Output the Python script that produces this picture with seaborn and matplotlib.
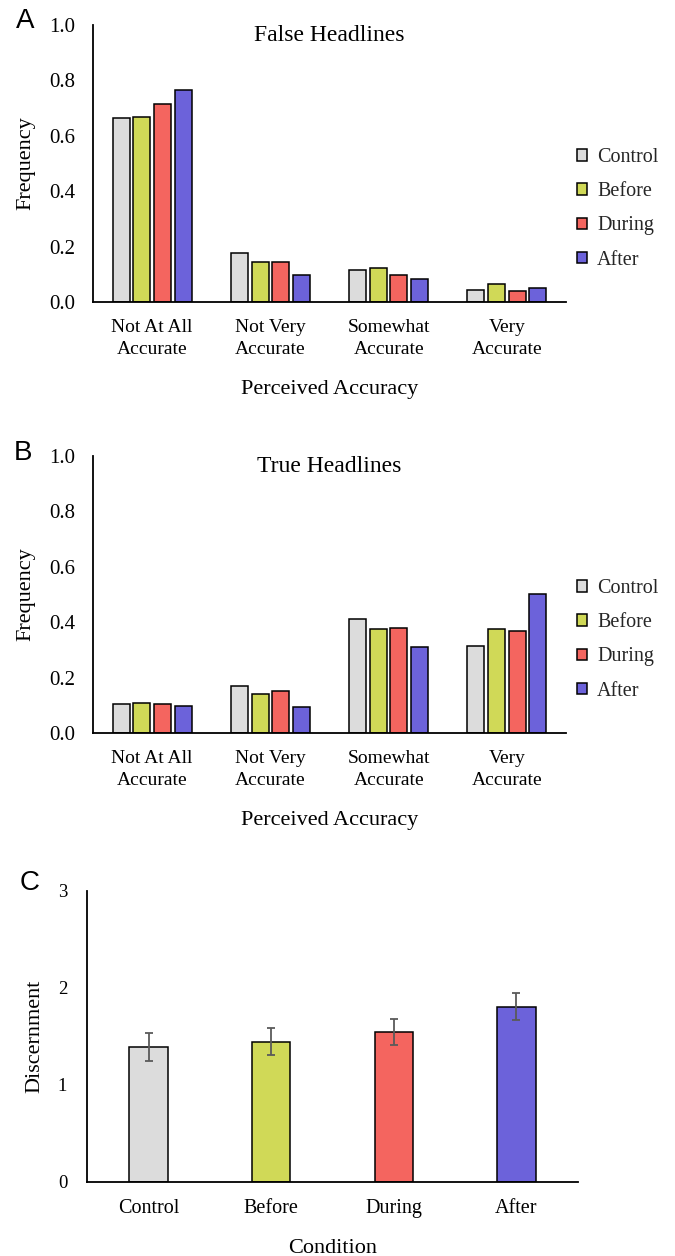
import matplotlib
matplotlib.use("Agg")
import matplotlib.pyplot as plt
import seaborn as sns
import pandas as pd
import numpy as np

categories = ["Not At All\nAccurate", "Not Very\nAccurate", "Somewhat\nAccurate", "Very\nAccurate"]
conditions = ["Control", "Before", "During", "After"]
colors = ["#dcdcdc", "#d0d957", "#f4655f", "#6c62da"]

false_control = [0.663, 0.177, 0.114, 0.045]
false_before = [0.668, 0.146, 0.121, 0.066]
false_during = [0.716, 0.143, 0.097, 0.041]
false_after = [0.767, 0.099, 0.084, 0.050]

true_control = [0.105, 0.170, 0.413, 0.315]
true_before = [0.107, 0.142, 0.377, 0.377]
true_during = [0.105, 0.152, 0.378, 0.367]
true_after = [0.096, 0.095, 0.312, 0.502]

discernment = [1.393, 1.442, 1.545, 1.806]
discernment_err = [0.142, 0.139, 0.130, 0.137]

yticks_freq = [0.0, 0.2, 0.4, 0.6, 0.8, 1.0]
yticks_disc = [0, 1, 2, 3]

sns.set_theme(style="white")
plt.rcParams['font.family'] = ['Liberation Serif', 'DejaVu Serif']

W, H = 675, 1256
fig = plt.figure(figsize=(W / 100, H / 100), dpi=100)


def long_df(series):
    rows = []
    for cond, vals in zip(conditions, series):
        for cat, v in zip(categories, vals):
            rows.append({"cat": cat, "cond": cond, "val": v})
    return pd.DataFrame(rows)


def style_axes(ax):
    for s in ["top", "right"]:
        ax.spines[s].set_visible(False)
    for s in ["left", "bottom"]:
        ax.spines[s].set_color("black")
        ax.spines[s].set_linewidth(1.3)
    ax.tick_params(length=0, colors="black")
    ax.grid(False)


def panel_letter(x, y, letter):
    fig.text(x / W, 1 - y / H, letter, fontsize=20, family="Liberation Sans",
             ha="center", va="center", color="black")


def freq_panel(rect, series, title, letter, letter_xy):
    ax = fig.add_axes(rect)
    df = long_df(series)
    sns.barplot(data=df, x="cat", y="val", hue="cond", order=categories,
                hue_order=conditions, palette=colors, width=0.7, gap=0.18,
                edgecolor="black", linewidth=1.1, ax=ax, saturation=1)
    ax.set_ylim(0, 1.0)
    ax.set_xlim(-0.5, 3.5)
    ax.set_yticks(yticks_freq)
    ax.set_yticklabels([f"{t:.1f}" for t in yticks_freq])
    style_axes(ax)
    ax.tick_params(axis="y", pad=13, labelsize=15)
    ax.tick_params(axis="x", pad=12, labelsize=14)
    ax.set_xlabel("Perceived Accuracy", fontsize=16, color="black")
    ax.xaxis.set_label_coords(0.5, -0.2816)
    ax.set_ylabel("Frequency", fontsize=16, color="black")
    ax.yaxis.set_label_coords(-0.121, 0.5)
    ax.text(0.5, 1.0, title, transform=ax.transAxes, ha="center", va="top",
            fontsize=17, color="black")
    for lab in ax.get_xticklabels():
        lab.set_linespacing(1.38)
    ax.legend(loc="center left", bbox_to_anchor=(1.0233, 0.336), frameon=False,
              fontsize=14.5, handlelength=0.5, handleheight=0.5,
              handletextpad=0.5, labelspacing=0.75, borderpad=0,
              borderaxespad=0)
    panel_letter(letter_xy[0], letter_xy[1], letter)
    return ax


axA = freq_panel([93 / W, 1 - 302 / H, 473 / W, 277 / H],
                 [false_control, false_before, false_during, false_after],
                 "False Headlines", "A", (25, 21))
axB = freq_panel([93 / W, 1 - 733 / H, 473 / W, 277 / H],
                 [true_control, true_before, true_during, true_after],
                 "True Headlines", "B", (23, 453))

# Panel C
axC = fig.add_axes([87.3 / W, 1 - 1182 / H, 490.4 / W, 291.3 / H])
dfc = pd.DataFrame({"cond": conditions, "val": discernment, "err": discernment_err})
sns.barplot(data=dfc, x="cond", y="val", hue="cond", order=conditions,
            hue_order=conditions, palette=colors, width=0.314, legend=False,
            edgecolor="black", linewidth=1.1, ax=axC, saturation=1, errorbar=None)
axC.errorbar(x=np.arange(len(conditions)), y=dfc["val"], yerr=dfc["err"], fmt="none",
             ecolor="#5a5a5a", elinewidth=1.3, capsize=3.2, capthick=1.3)
axC.set_ylim(0, 3)
axC.set_xlim(-0.5, 3.5)
axC.set_yticks(yticks_disc)
style_axes(axC)
axC.tick_params(axis="y", pad=14.5, labelsize=13.5)
axC.tick_params(axis="x", pad=12.5, labelsize=14.5)
axC.set_xlabel("Condition", fontsize=16, color="black")
axC.xaxis.set_label_coords(0.5, -0.197)
axC.set_ylabel("Discernment", fontsize=16, color="black")
axC.yaxis.set_label_coords(-0.0867, 0.5)
panel_letter(30, 883, "C")

fig.savefig("out.png", dpi=100, facecolor="white")
